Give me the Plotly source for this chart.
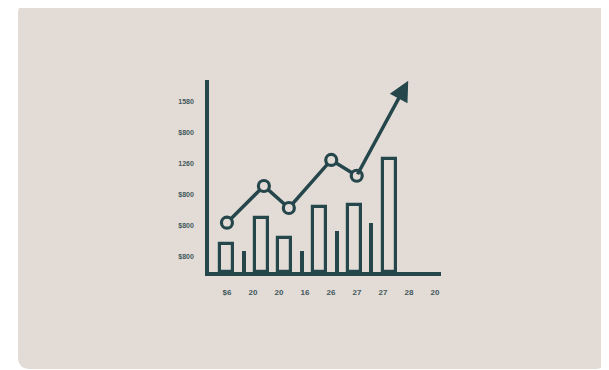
import plotly.graph_objects as go

# ---- data ----
x_tick_vals = [0, 1, 2, 3, 4, 5, 6, 7, 8]
x_tick_text = ["$6", "20", "20", "16", "26", "27", "27", "28", "20"]
y_tick_vals = [100, 300, 500, 700, 900, 1100]
y_tick_text = ["$800", "$800", "$800", "1260", "$800", "1580"]

hollow_x = [0.0, 1.32, 2.2, 3.55, 4.89, 6.24]
hollow_y = [183, 350, 219, 421, 434, 731]
thin_x = [0.65, 2.88, 4.23, 5.54]
thin_y = [137, 135, 265, 318]

line_x = [0.0, 1.42, 2.38, 4.01, 4.99]
line_y = [318, 555, 413, 723, 621]
arrow_tip_x = 6.97
arrow_tip_y = 1234

DARK = "#25474c"
CARD = "#e3dcd6"
LABEL = "#42585c"

fig = go.Figure()

fig.add_trace(go.Bar(
    x=hollow_x, y=hollow_y, width=0.5,
    marker=dict(color=CARD, line=dict(color=DARK, width=3.2)),
    hoverinfo="skip",
))
fig.add_trace(go.Bar(
    x=thin_x, y=thin_y, width=0.14,
    marker=dict(color=DARK, line=dict(width=0)),
    hoverinfo="skip",
))
fig.add_trace(go.Scatter(
    x=line_x, y=line_y, mode="lines",
    line=dict(color=DARK, width=3.5),
    hoverinfo="skip",
))
fig.add_annotation(
    x=arrow_tip_x, y=arrow_tip_y, ax=line_x[-1], ay=line_y[-1],
    xref="x", yref="y", axref="x", ayref="y",
    showarrow=True, arrowhead=2, arrowsize=1.15, arrowwidth=3.5,
    arrowcolor=DARK, text="",
)
fig.add_trace(go.Scatter(
    x=line_x, y=line_y, mode="markers",
    marker=dict(symbol="circle", size=11, color=CARD,
                line=dict(color=DARK, width=3.2)),
    hoverinfo="skip",
))

# page is shown with an 8px body margin, so offset all target positions
OFF = 8
W, H = 609 - OFF, 370 - OFF
L, R, T, B = 209 - OFF, 441 - OFF, 80 - OFF, 272 - OFF
pw, ph = R - L, B - T
def px(xp): return (xp - OFF - L) / pw
def py(yp): return (B - (yp - OFF)) / ph
x0, x1, y0, y1 = px(18), px(607), py(369), py(2)
rx, ry = 12 / pw, 12 / ph
path = (f"M {x0+rx},{y1} L {x1-rx},{y1} Q {x1},{y1} {x1},{y1-ry} "
        f"L {x1},{y0+ry} Q {x1},{y0} {x1-rx},{y0} "
        f"L {x0+rx},{y0} Q {x0},{y0} {x0},{y0+ry} "
        f"L {x0},{y1-ry} Q {x0},{y1} {x0+rx},{y1} Z")
fig.add_shape(type="path", path=path, xref="paper", yref="paper",
              fillcolor=CARD, line=dict(width=0), layer="below")

fig.update_layout(
    width=W, height=H,
    margin=dict(l=L, r=W - R, t=T, b=H - B),
    paper_bgcolor="white", plot_bgcolor="rgba(0,0,0,0)",
    showlegend=False, barmode="overlay", bargap=0,
    font=dict(family="Liberation Sans, Arial, sans-serif", size=8, color=LABEL),
    xaxis=dict(range=[-0.69, 8.23], tickvals=x_tick_vals, ticktext=x_tick_text,
               showgrid=False, zeroline=False, showline=True, linecolor=DARK,
               linewidth=3.5, ticks="", ticklabelstandoff=10,
               tickfont=dict(size=8, color=LABEL, weight="bold")),
    yaxis=dict(range=[0, 1239], tickvals=y_tick_vals, ticktext=y_tick_text,
               showgrid=False, zeroline=False, showline=True, linecolor=DARK,
               linewidth=3.5, ticks="", ticklabelstandoff=10,
               tickfont=dict(size=7, color=LABEL, weight="bold")),
)

fig.write_html("out.html")
